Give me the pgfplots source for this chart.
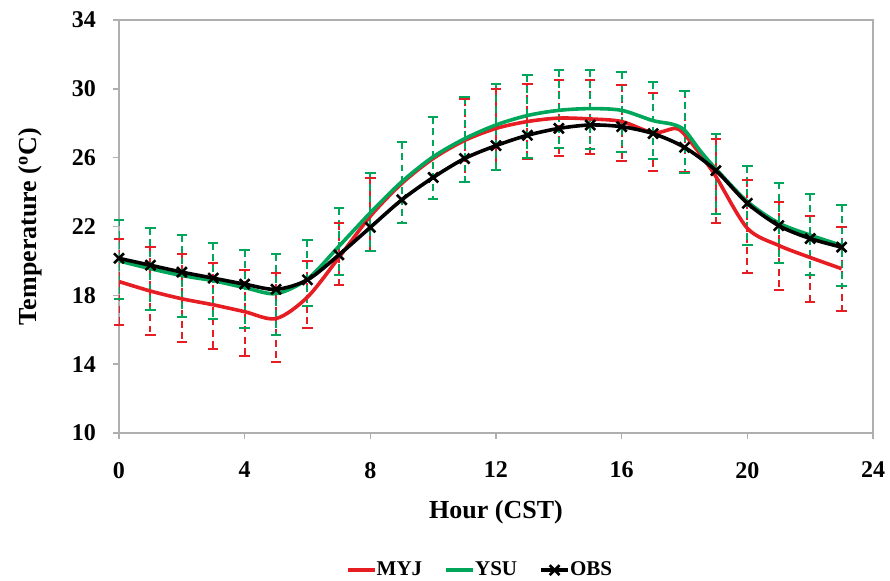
\documentclass[border=0pt]{standalone}
\usepackage{fontspec}
\setmainfont{Liberation Serif}
\usepackage{pgfplots}
\usepackage{pgfplotstable}
\pgfplotsset{compat=1.18}
\definecolor{myj}{RGB}{230,30,36}
\definecolor{ysu}{RGB}{0,166,90}
\definecolor{axgray}{RGB}{175,175,175}

\pgfplotstableread{
h t
0 18.8
1 18.25
2 17.8
3 17.45
4 17.05
5 16.65
6 17.9
7 20.2
8 22.6
9 24.5
10 25.95
11 27.0
12 27.7
13 28.1
14 28.3
15 28.25
16 28.1
17 27.45
17.7 27.7
18 27.35
18.5 26.2
19 24.9
20 21.9
21 20.9
22 20.2
23 19.55
}\myj

\pgfplotstableread{
h t
0 20.0
1 19.55
2 19.15
3 18.85
4 18.45
5 18.1
6 18.95
7 20.85
8 22.8
9 24.6
10 26.05
11 27.1
12 27.9
13 28.45
14 28.75
15 28.85
16 28.75
17 28.15
17.6 27.95
18 27.6
18.5 26.4
19 25.35
20 23.45
21 22.2
22 21.5
23 20.9
}\ysu

\pgfplotstableread{
h t
0 20.15
1 19.75
2 19.35
3 19.0
4 18.65
5 18.35
6 18.9
7 20.35
8 21.95
9 23.55
10 24.85
11 25.95
12 26.7
13 27.3
14 27.7
15 27.9
16 27.8
17 27.4
18 26.6
19 25.25
20 23.35
21 22.05
22 21.3
23 20.8
}\obs

% error bars: high and low end of each bar, bars separated by nan
\pgfplotstableread{
h v
0 21.3
0 16.3
0 nan
1 20.8
1 15.7
1 nan
2 20.4
2 15.3
2 nan
3 19.9
3 14.9
3 nan
4 19.5
4 14.5
4 nan
5 19.3
5 14.1
5 nan
6 20.0
6 16.1
6 nan
7 22.2
7 18.6
7 nan
8 24.8
8 20.6
8 nan
9 26.9
9 22.2
9 nan
10 28.35
10 23.6
10 nan
11 29.4
11 24.6
11 nan
12 30.0
12 25.3
12 nan
13 30.3
13 25.9
13 nan
14 30.5
14 26.1
14 nan
15 30.5
15 26.2
15 nan
16 30.2
16 25.8
16 nan
17 29.75
17 25.2
17 nan
18 29.85
18 25.15
18 nan
19 27.1
19 22.2
19 nan
20 24.7
20 19.3
20 nan
21 23.45
21 18.3
21 nan
22 22.6
22 17.6
22 nan
23 22.0
23 17.1
}\myjerr

\pgfplotstableread{
h v
0 22.4
0 17.8
0 nan
1 21.9
1 17.15
1 nan
2 21.5
2 16.75
2 nan
3 21.05
3 16.6
3 nan
4 20.65
4 16.1
4 nan
5 20.4
5 15.7
5 nan
6 21.2
6 17.4
6 nan
7 23.05
7 19.2
7 nan
8 25.1
8 20.6
8 nan
9 26.9
9 22.2
9 nan
10 28.35
10 23.6
10 nan
11 29.5
11 24.6
11 nan
12 30.3
12 25.3
12 nan
13 30.8
13 26.0
13 nan
14 31.1
14 26.55
14 nan
15 31.1
15 26.5
15 nan
16 30.95
16 26.35
16 nan
17 30.4
17 25.9
17 nan
18 29.9
18 25.1
18 nan
19 27.4
19 22.7
19 nan
20 25.5
20 20.9
20 nan
21 24.55
21 19.9
21 nan
22 23.9
22 19.2
22 nan
23 23.25
23 18.55
}\ysuerr

\begin{document}
\begin{tikzpicture}
\path[use as bounding box] (-59.5pt,-73.5pt) rectangle (385.5pt,216.5pt);
\begin{axis}[
  at={(0,0)}, anchor=south west,
  scale only axis, width=377pt, height=206.5pt,
  xmin=0, xmax=24, ymin=10, ymax=34,
  xtick={0,4,...,24}, ytick={10,14,...,34},
  axis line style={axgray, line width=0.8pt},
  tick style={axgray, line width=0.8pt},
  tick align=outside, major tick length=3pt,
  xtick pos=lower, ytick pos=left,
  /pgf/number format/assume math mode=true,
  ticklabel style={font=\fontsize{12}{14}\selectfont\bfseries},
  xticklabel style={yshift=-8pt},
  yticklabel style={xshift=-5pt},
  xlabel={Hour (CST)},
  ylabel={Temperature (\textsuperscript{o}C)},
  label style={font=\fontsize{13}{15}\selectfont\bfseries},
  xlabel style={at={(axis description cs:0.5,-0.191)}, anchor=center},
  ylabel style={at={(axis description cs:-0.118,0.5)}, anchor=center},
  unbounded coords=jump,
  legend columns=3,
  legend style={draw=none, at={(axis description cs:0.48,-0.332)}, anchor=center,
    font=\fontsize{10.5}{12}\selectfont\bfseries,
    /tikz/every even column/.append style={column sep=9pt},
    /tikz/every odd column/.append style={column sep=-2pt}},
  legend image code/.code={%
    \draw[#1,mark=none] (0cm,0cm) -- (0.48cm,0cm);
    \draw[#1,draw=none] plot coordinates {(0.24cm,0cm)};},
  legend cell align=left,
]
\addplot[myj, line width=1pt, dash pattern=on 3.4pt off 2.2pt, forget plot,
  mark=-, mark size=2.6pt, mark options={solid, line width=1pt, myj}]
  table[x=h, y=v] {\myjerr};
\addplot[ysu, line width=1pt, dash pattern=on 3.4pt off 2.2pt, forget plot,
  mark=-, mark size=2.6pt, mark options={solid, line width=1pt, ysu}]
  table[x=h, y=v] {\ysuerr};
\addplot[myj, line width=1.8pt, smooth, tension=0.5, mark=none] table[x=h, y=t] {\myj};
\addlegendentry{MYJ}
\addplot[ysu, line width=1.8pt, smooth, tension=0.5, mark=none] table[x=h, y=t] {\ysu};
\addlegendentry{YSU}
\addplot[black, line width=1.8pt, smooth, tension=0.5, mark=x, mark size=3.5pt,
  mark options={line width=1.3pt, solid}] table[x=h, y=t] {\obs};
\addlegendentry{OBS}
\end{axis}
\end{tikzpicture}
\end{document}
